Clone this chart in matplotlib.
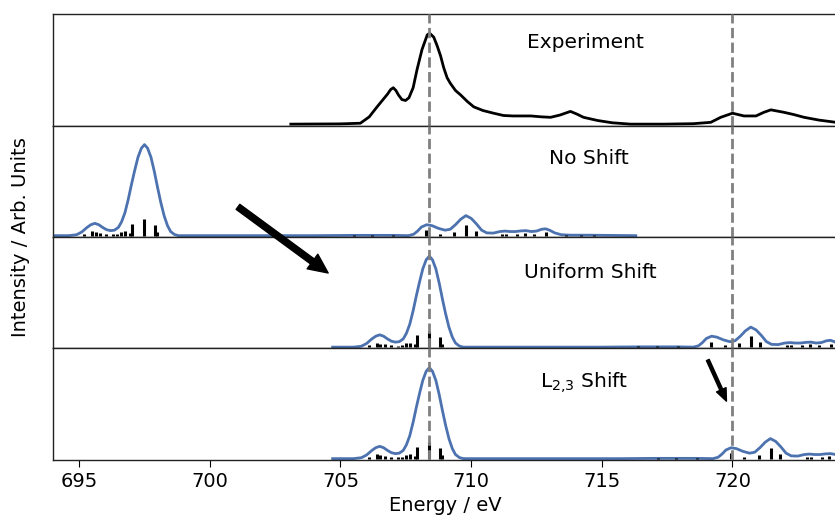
import numpy as np
import matplotlib
matplotlib.use("Agg")
import matplotlib.pyplot as plt

# -------------------------------------------------------------------------
# Data
# -------------------------------------------------------------------------

exp_energy = [703.1, 705.0, 705.76, 706.1, 706.4, 706.6, 706.8, 706.92, 707.02, 707.12,
              707.22, 707.35, 707.49, 707.62, 707.78, 707.93, 708.12, 708.32, 708.41, 708.57,
              708.7, 708.83, 708.95, 709.08, 709.2, 709.4, 709.6, 709.85, 710.1, 710.45,
              710.86, 711.24, 711.6, 712.28, 712.7, 713.04, 713.4, 713.8, 714.05, 714.3,
              714.84, 715.4, 716.1, 717.37, 718.5, 719.17, 719.55, 720.0, 720.44, 720.9,
              721.2, 721.47, 721.97, 722.35, 722.74, 723.3, 723.96, 724.2]
exp_intensity = [0.0, 0.003, 0.01, 0.08, 0.19, 0.26, 0.33, 0.38, 0.40, 0.37,
                 0.32, 0.27, 0.26, 0.29, 0.40, 0.60, 0.82, 0.98, 1.0, 0.955,
                 0.86, 0.75, 0.62, 0.51, 0.45, 0.37, 0.32, 0.25, 0.19, 0.15,
                 0.12, 0.095, 0.09, 0.09, 0.08, 0.075, 0.1, 0.14, 0.11, 0.075,
                 0.04, 0.015, 0.0, 0.0, 0.005, 0.02, 0.075, 0.12, 0.09, 0.09,
                 0.13, 0.157, 0.13, 0.105, 0.075, 0.045, 0.02, 0.015]

# broadened spectra: L3 part and L2 part
l3_intensity = [0, 0, 0.01, 0.04, 0.09, 0.12, 0.135, 0.12, 0.09, 0.065,
                0.055, 0.06, 0.09, 0.15, 0.25, 0.40, 0.56, 0.71, 0.86, 0.96,
                1.0, 0.96, 0.86, 0.70, 0.53, 0.37, 0.22, 0.11, 0.045, 0.012,
                0, 0]
l2_intensity = [0, 0.003, 0.003, 0, 0.015, 0.05, 0.095, 0.12, 0.11, 0.08,
                0.06, 0.07, 0.12, 0.18, 0.22, 0.19, 0.13, 0.06, 0.03, 0.028,
                0.045, 0.05, 0.045, 0.045, 0.052, 0.055, 0.045, 0.05, 0.07, 0.075,
                0.06, 0.03, 0.01, 0.005, 0.005, 0.002, 0]

noshift_l3_energy = [693.8, 694.6, 694.9, 695.1, 695.3, 695.45, 695.6, 695.75, 695.9, 696.05,
                     696.2, 696.35, 696.5, 696.62, 696.75, 696.88, 697.0, 697.12, 697.25, 697.38,
                     697.5, 697.62, 697.75, 697.88, 698.0, 698.12, 698.25, 698.38, 698.5, 698.65,
                     698.8, 703.5]
noshift_l2_energy = [704.0, 705.5, 707.0, 707.6, 707.8, 707.95, 708.1, 708.3, 708.5, 708.75,
                     709.0, 709.2, 709.4, 709.6, 709.8, 710.0, 710.2, 710.4, 710.6, 710.85,
                     711.1, 711.3, 711.5, 711.7, 711.9, 712.1, 712.3, 712.5, 712.7, 712.85,
                     713.0, 713.2, 713.45, 713.8, 714.5, 715.5, 716.3]

shift_l3_energy = [704.7, 705.5, 705.8, 706.0, 706.2, 706.35, 706.5, 706.65, 706.8, 706.95,
                   707.1, 707.25, 707.4, 707.52, 707.65, 707.78, 707.9, 708.02, 708.15, 708.28,
                   708.4, 708.52, 708.65, 708.78, 708.9, 709.02, 709.15, 709.28, 709.4, 709.55,
                   709.7, 714.4]
uniform_l2_energy = [714.9, 716.4, 717.9, 718.5, 718.7, 718.85, 719.0, 719.2, 719.4, 719.65,
                     719.9, 720.1, 720.3, 720.5, 720.7, 720.9, 721.1, 721.3, 721.5, 721.75,
                     722.0, 722.2, 722.4, 722.6, 722.8, 723.0, 723.2, 723.4, 723.6, 723.75,
                     723.9, 724.1, 724.35, 724.7, 725.4, 726.4, 727.2]
l23_l2_energy = [715.65, 717.15, 718.65, 719.25, 719.45, 719.6, 719.75, 719.95, 720.15, 720.4,
                 720.65, 720.85, 721.05, 721.25, 721.45, 721.65, 721.85, 722.05, 722.25, 722.5,
                 722.75, 722.95, 723.15, 723.35, 723.55, 723.75, 723.95, 724.15, 724.35, 724.5,
                 724.65, 724.85, 725.1, 725.45, 726.15, 727.15, 727.95]

# stick spectra
l3_stick_height = [0.02, 0.05, 0.035, 0.03, 0.02, 0.015, 0.02, 0.045, 0.05, 0.03,
                   0.13, 0.18, 0.115, 0.035]
l2_stick_height = [0.01, 0.01, 0.01, 0.06, 0.02, 0.04, 0.12, 0.055, 0.02, 0.02,
                   0.02, 0.03, 0.02, 0.035, 0.01, 0.01, 0.01]

noshift_l3_sticks = [695.18, 695.5, 695.63, 695.79, 696.04, 696.3, 696.46, 696.62, 696.75, 696.94,
                     697.04, 697.47, 697.9, 697.98]
noshift_l2_sticks = [705.5, 706.2, 707.0, 708.28, 708.8, 709.36, 709.82, 710.17, 711.19, 711.34,
                     711.77, 712.05, 712.4, 712.87, 713.62, 714.19, 714.69]
shift_l3_sticks = [706.08, 706.4, 706.53, 706.69, 706.94, 707.2, 707.36, 707.52, 707.65, 707.84,
                   707.94, 708.37, 708.8, 708.88]
uniform_l2_sticks = [716.4, 717.1, 717.9, 719.18, 719.7, 720.26, 720.72, 721.07, 722.09, 722.24,
                     722.67, 722.95, 723.3, 723.77, 724.52, 725.09, 725.59]
l23_l2_sticks = [717.15, 717.85, 718.65, 719.93, 720.45, 721.01, 721.47, 721.82, 722.84, 722.99,
                 723.42, 723.7, 724.05, 724.52, 725.27, 725.84, 726.34]

ref_lines = [708.4, 720.0]
panel_labels = ["Experiment", "No Shift", "Uniform Shift", r"L$_{2{,}3}$ Shift"]
xticks = [695, 700, 705, 710, 715, 720]

# -------------------------------------------------------------------------
# Plot
# -------------------------------------------------------------------------

BLUE = "#4C72B0"
plt.rcParams["font.family"] = "DejaVu Sans"

fig, axes = plt.subplots(4, 1, figsize=(8.35, 5.21), dpi=100, sharex=True,
                         gridspec_kw={"hspace": 0})
fig.subplots_adjust(left=0.0635, right=1.0024, top=0.9731, bottom=0.1171)

axes[0].plot(exp_energy, exp_intensity, color="black", lw=2)

sims = [
    (noshift_l3_energy, noshift_l2_energy, noshift_l3_sticks, noshift_l2_sticks),
    (shift_l3_energy, uniform_l2_energy, shift_l3_sticks, uniform_l2_sticks),
    (shift_l3_energy, l23_l2_energy, shift_l3_sticks, l23_l2_sticks),
]
for ax, (e3, e2, s3, s2) in zip(axes[1:], sims):
    ax.plot(list(e3) + list(e2), l3_intensity + l2_intensity, color=BLUE, lw=2)
    ax.vlines(list(s3) + list(s2), 0, l3_stick_height + l2_stick_height,
              color="black", lw=2.2)

label_pos = [(0.679, 0.745), (0.684, 0.70), (0.685, 0.685), (0.678, 0.695)]
for ax, label, (lx, ly) in zip(axes, panel_labels, label_pos):
    for x in ref_lines:
        ax.axvline(x, color="gray", ls="--", lw=2, zorder=5)
    ax.set_ylim(-0.015, 1.21)
    ax.set_yticks([])
    ax.text(lx, ly, label, transform=ax.transAxes, ha="center", va="center",
            fontsize=14.5)
    ax.tick_params(axis="x", length=0)
    for sp in ax.spines.values():
        sp.set_color("#222222")
        sp.set_linewidth(1.0)

axes[-1].set_xlim(694, 724)
axes[-1].set_xticks(xticks)
axes[-1].tick_params(axis="x", length=5, labelsize=14)
axes[-1].set_xlabel("Energy / eV", fontsize=14)

fig.text(0.025, 0.545, "Intensity / Arb. Units", rotation=90, ha="center",
         va="center", fontsize=14)

# arrows (attached to the last axes so they are drawn on top of every panel)
axes[3].annotate("", xy=(0.393, 0.476), xytext=(0.285, 0.603),
                 xycoords="figure fraction", textcoords="figure fraction",
                 arrowprops=dict(facecolor="black", edgecolor="black",
                                 width=4.5, headwidth=13, headlength=14, shrink=0),
                 annotation_clip=False)
axes[3].annotate("", xy=(0.870, 0.230), xytext=(0.8477, 0.309),
                 xycoords="figure fraction", textcoords="figure fraction",
                 arrowprops=dict(facecolor="black", edgecolor="black",
                                 width=2.2, headwidth=7.5, headlength=9, shrink=0),
                 annotation_clip=False)

plt.savefig("out.png", dpi=100)
